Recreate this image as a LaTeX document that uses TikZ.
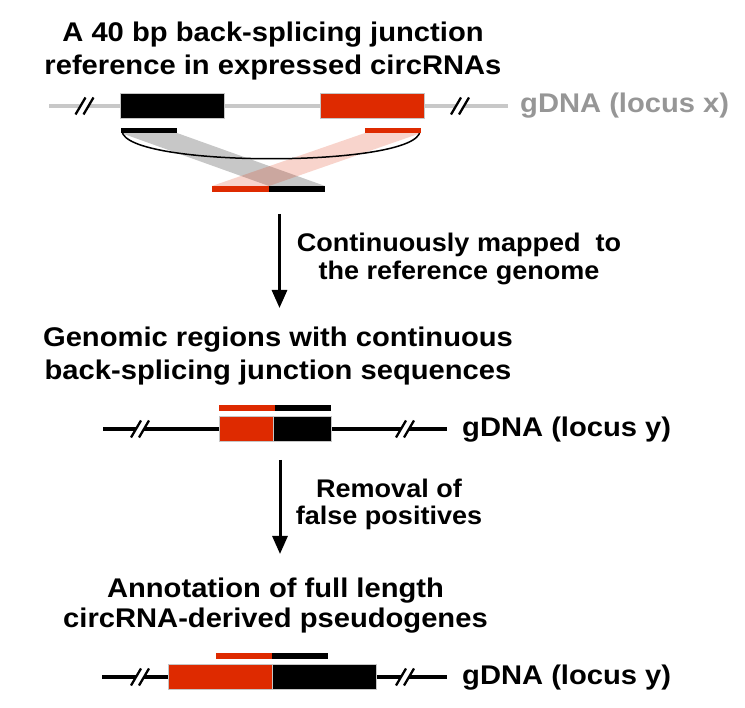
\documentclass[tikz,border=0pt]{standalone}
\usepackage{fontspec}
\setmainfont{Liberation Sans}
\usepackage{graphicx}
\usetikzlibrary{arrows.meta}
\definecolor{cred}{RGB}{222,42,0}
\definecolor{lgray}{RGB}{200,200,200}
\definecolor{tgray}{RGB}{150,150,150}
\newcommand{\wt}[1]{\scalebox{1.08}[1]{#1}}
\newcommand{\wl}[1]{\scalebox{1.06}[1]{#1}}
\newcommand{\brkmark}[3]{%
  \fill[white] ({#1-6.5},{#2+4}) -- ({#1+1.5},{#2+4}) -- ({#1+6.5},{#2-4}) -- ({#1-1.5},{#2-4}) -- cycle;
  \draw[slash] ({#1-9},{#2+8.5}) -- ({#1+1},{#2-8.5});
  \draw[slash] ({#1-1},{#2+8.5}) -- ({#1+9},{#2-8.5});
}
\tikzset{
  titletext/.style={anchor=base, inner sep=0pt, font=\fontsize{27}{27}\selectfont\bfseries},
  labeltext/.style={anchor=base, inner sep=0pt, font=\fontsize{25.5}{25.5}\selectfont\bfseries},
  locustext/.style={anchor=base west, inner sep=0pt, font=\fontsize{27}{27}\selectfont\bfseries},
  slash/.style={line width=2.3pt, black},
  redbox/.style={fill=cred, draw=gray!45, line width=0.6pt},
  blackbox/.style={fill=black, draw=gray!45, line width=0.6pt},
  redbar/.style={fill=cred},
  blackbar/.style={fill=black},
  flowarrow/.style={line width=3pt, -{Triangle[width=15pt,length=18pt]}},
}
\begin{document}
\begin{tikzpicture}[x=1pt,y=-1pt]
\useasboundingbox (0,0) rectangle (745,708);

% ---------- Titles ----------
\node[titletext] (t1a) at (273,41.7) {\wt{A 40 bp back-splicing junction}};
\node[titletext] (t1b) at (273,75) {\wt{reference in expressed circRNAs}};
\node[titletext] (t2a) at (278,346.7) {\wt{Genomic regions with continuous}};
\node[titletext] (t2b) at (278,379.3) {\wt{back-splicing junction sequences}};
\node[titletext] (t3a) at (275.5,597.7) {\wt{Annotation of full length}};
\node[titletext] (t3b) at (275.5,627.7) {\wt{circRNA-derived pseudogenes}};

% ---------- Arrow labels ----------
\node[labeltext] (l1a) at (459,251.7) {\wl{Continuously mapped~~to}};
\node[labeltext] (l1b) at (459,280) {\wl{the reference genome}};
\node[labeltext] (l2a) at (389,497.7) {\wl{Removal of}};
\node[labeltext] (l2b) at (389,525) {\wl{false positives}};

% ---------- Locus labels ----------
\node[locustext, text=tgray] (gx) at (520,113) {\wt{gDNA (locus x)}};
\node[locustext] (gy1) at (462,436.7) {\wt{gDNA (locus y)}};
\node[locustext] (gy2) at (462,684.5) {\wt{gDNA (locus y)}};

% ---------- Top: locus x ----------
\draw[lgray, line width=4pt] (49,106) -- (508,106);
\brkmark{84.5}{106}{lgray}
\brkmark{460}{106}{lgray}
\path[blackbox] (120,93.3) rectangle (224,118);
\path[redbox] (320,93.3) rectangle (424,118);

% projection bands
\fill[black, opacity=0.22] (121,133) -- (177,133) -- (325,186) -- (269,186) -- cycle;
\fill[cred, opacity=0.2] (365,133) -- (421,133) -- (269,186) -- (212,186) -- cycle;
% back-splicing arc
\draw[black, line width=1.5pt] (122,131) .. controls (125,168) and (418,168) .. (420,131);
% short bars
\fill[blackbar] (121,128) rectangle (177,133);
\fill[redbar] (365,128) rectangle (421,133);
% junction read
\fill[redbar] (212,186) rectangle (269,192);
\fill[blackbar] (269,186) rectangle (325,192);

% ---------- Arrow 1 ----------
\coordinate (a1s) at (279.5,214);
\coordinate (a1e) at (279.5,308);
\draw[flowarrow] (a1s) -- (a1e);

% ---------- Middle: locus y ----------
\draw[black, line width=4pt] (103,429) -- (447,429);
\brkmark{140}{429}{black}
\brkmark{405}{429}{black}
\path[redbox] (219,416) rectangle (273,441);
\path[blackbox] (273,416) rectangle (331,441);
\fill[redbar] (219,405) rectangle (275,410.7);
\fill[blackbar] (275,405) rectangle (331,410.7);

% ---------- Arrow 2 ----------
\coordinate (a2s) at (280,460);
\coordinate (a2e) at (280,554);
\draw[flowarrow] (a2s) -- (a2e);

% ---------- Bottom: locus y ----------
\draw[black, line width=4pt] (102,677) -- (447,677);
\brkmark{140}{677}{black}
\brkmark{405}{677}{black}
\path[redbox] (168,664) rectangle (272,689);
\path[blackbox] (272,664) rectangle (376,689);
\fill[redbar] (216,653) rectangle (272,659);
\fill[blackbar] (272,653) rectangle (328,659);
\end{tikzpicture}
\end{document}
